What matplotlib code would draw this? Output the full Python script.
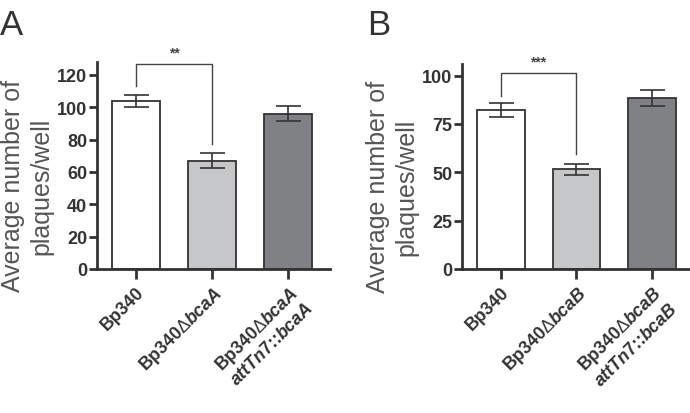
import matplotlib.pyplot as plt
import numpy as np

# --- data ---
groups_a = ['Bp340', 'Bp340$\\mathsf{\\Delta}\\mathit{bcaA}$',
            'Bp340$\\mathsf{\\Delta}\\mathit{bcaA}$\n$\\mathit{attTn7}$::$\\mathit{bcaA}$']
means_a = [104, 67, 96]
errs_a = [3.8, 4.5, 4.8]
bracket_a = [113, 127, 77]   # left leg end, top, right leg end
stars_a = '**'

groups_b = ['Bp340', 'Bp340$\\mathsf{\\Delta}\\mathit{bcaB}$',
            'Bp340$\\mathsf{\\Delta}\\mathit{bcaB}$\n$\\mathit{attTn7}$::$\\mathit{bcaB}$']
means_b = [82, 51.5, 88.5]
errs_b = [3.6, 3.0, 4.2]
bracket_b = [89.6, 101.5, 59.6]
stars_b = '***'

bar_colors = ['#ffffff', '#c6c7c9', '#808184']
EDGE = '#333333'

plt.rcParams['font.family'] = ['Liberation Sans', 'DejaVu Sans']
plt.rcParams['mathtext.fontset'] = 'custom'
plt.rcParams['mathtext.rm'] = 'Liberation Sans:bold'
plt.rcParams['mathtext.bf'] = 'Liberation Sans:bold'
plt.rcParams['mathtext.it'] = 'Liberation Sans:italic:bold'
plt.rcParams['mathtext.sf'] = 'Liberation Sans'


def draw_panel(ax, labels, means, errs, bracket, stars, ymax, yticks):
    x = np.arange(len(means))
    ax.bar(x, means, width=0.63, color=bar_colors, edgecolor=EDGE,
           linewidth=1.3, zorder=2)
    ax.errorbar(x, means, yerr=errs, fmt='none', ecolor=EDGE,
                elinewidth=1.2, capsize=9, capthick=1.2, zorder=3)

    # significance bracket between the first two bars
    ax.plot([x[0], x[0], x[1], x[1]],
            [bracket[0], bracket[1], bracket[1], bracket[2]],
            color='#444444', lw=1.0, clip_on=False, zorder=3)
    ax.text((x[0] + x[1]) / 2, bracket[1] + ymax * 0.02, stars,
            ha='center', va='bottom', fontsize=10, fontweight='bold',
            color='#444444')

    ax.set_xlim(-0.51, 2.55)
    ax.set_ylim(0, ymax)
    ax.set_yticks(yticks)
    ax.set_xticks(x)
    ax.set_xticklabels(labels, rotation=45, ha='right',
                       rotation_mode='anchor', fontsize=12.8,
                       fontweight='bold', color='#333333')
    for t in ax.get_yticklabels():
        t.set_fontweight('bold')
        t.set_fontsize(13)
        t.set_color('#333333')

    ax.spines['top'].set_visible(False)
    ax.spines['right'].set_visible(False)
    for s in ('left', 'bottom'):
        ax.spines[s].set_linewidth(2.0)
        ax.spines[s].set_color('#333333')
    ax.tick_params(axis='both', direction='out', length=6, width=2.0,
                   color='#333333', pad=1)
    ax.tick_params(axis='x', length=7, pad=3)
    ax.set_ylabel('Average number of\nplaques/well', fontsize=18,
                  color='#555555', linespacing=1.25,
                  multialignment='center', ha='center', va='center')
    ax.yaxis.set_label_coords(-0.30, 0.405)


fig = plt.figure(figsize=(6.9, 4.14), dpi=100)
ax1 = fig.add_axes([0.1406, 0.348, 0.338, 0.50])
ax2 = fig.add_axes([0.6696, 0.348, 0.336, 0.495])

draw_panel(ax1, groups_a, means_a, errs_a, bracket_a, stars_a, 128,
           [0, 20, 40, 60, 80, 100, 120])
draw_panel(ax2, groups_b, means_b, errs_b, bracket_b, stars_b, 106,
           [0, 25, 50, 75, 100])

fig.text(0.0, 0.978, 'A', fontsize=25, color='#333333', va='top', ha='left')
fig.text(0.532, 0.978, 'B', fontsize=25, color='#333333', va='top', ha='left')

fig.savefig('out.png', dpi=100)
